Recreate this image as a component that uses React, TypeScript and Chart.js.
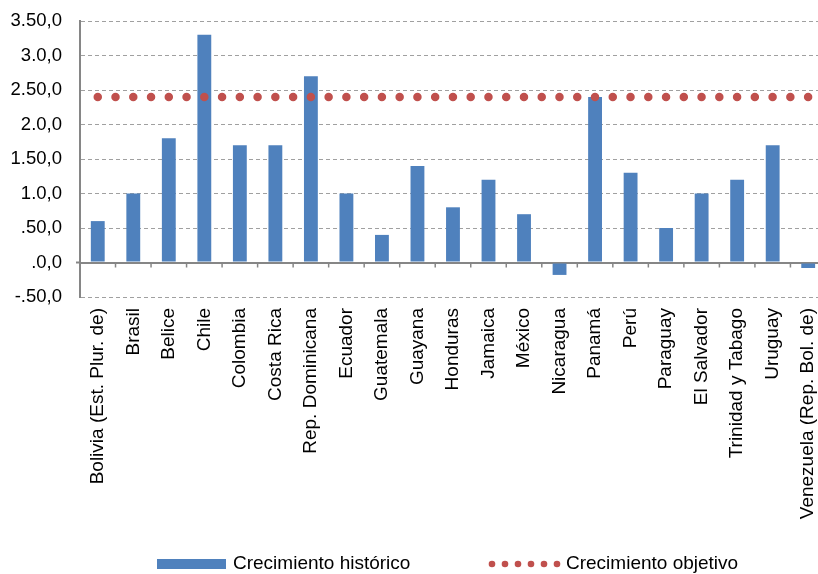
import React, { useEffect, useRef } from "react";
import { Chart, registerables } from "chart.js";

Chart.register(...registerables);

const categories = [
  "Bolivia (Est. Plur. de)",
  "Brasil",
  "Belice",
  "Chile",
  "Colombia",
  "Costa Rica",
  "Rep. Dominicana",
  "Ecuador",
  "Guatemala",
  "Guayana",
  "Honduras",
  "Jamaica",
  "México",
  "Nicaragua",
  "Panamá",
  "Perú",
  "Paraguay",
  "El Salvador",
  "Trinidad y Tabago",
  "Uruguay",
  "Venezuela (Rep. Bol. de)",
];

const historico = [
  0.6, 1.0, 1.8, 3.3, 1.7, 1.7, 2.7, 1.0, 0.4, 1.4, 0.8, 1.2, 0.7, -0.18, 2.4,
  1.3, 0.5, 1.0, 1.2, 1.7, -0.08,
];

const objetivo = [
  2.4, 2.4, 2.4, 2.4, 2.4, 2.4, 2.4, 2.4, 2.4, 2.4, 2.4, 2.4, 2.4, 2.4, 2.4,
  2.4, 2.4, 2.4, 2.4, 2.4, 2.4,
];

const yTickValues = [-0.5, 0, 0.5, 1.0, 1.5, 2.0, 2.5, 3.0, 3.5];
const yTickLabels = [
  "-.50,0",
  ".0,0",
  ".50,0",
  "1.0,0",
  "1.50,0",
  "2.0,0",
  "2.50,0",
  "3.0,0",
  "3.50,0",
];

const seriesNames = ["Crecimiento histórico", "Crecimiento objetivo"];

const BLUE = "#4F81BD";
const RED = "#C0504D";
const AXIS = "#868686";
const FONT = '"Liberation Sans", Arial, sans-serif';

const W = 842;
const H = 574;

export default function App() {
  const ref = useRef<HTMLCanvasElement | null>(null);

  useEffect(() => {
    if (!ref.current) return;

    const extras = {
      id: "extras",
      beforeDatasetsDraw(chart: any) {
        const { ctx } = chart;
        const x = chart.scales.x;
        const y = chart.scales.y;
        const y0 = y.getPixelForValue(0);
        ctx.save();
        ctx.strokeStyle = AXIS;
        ctx.lineWidth = 1.5;
        for (let i = 1; i < categories.length; i++) {
          const bx = (x.getPixelForValue(i - 1) + x.getPixelForValue(i)) / 2;
          ctx.beginPath();
          ctx.moveTo(bx, y0);
          ctx.lineTo(bx, y0 + 5);
          ctx.stroke();
        }
        // short stub of the zero line left of the value axis
        ctx.lineWidth = 2;
        ctx.beginPath();
        ctx.moveTo(chart.chartArea.left - 4, y0);
        ctx.lineTo(chart.chartArea.left, y0);
        ctx.stroke();
        ctx.restore();
      },
      afterDraw(chart: any) {
        const { ctx } = chart;
        const cy = 564;
        ctx.save();
        ctx.font = `19px ${FONT}`;
        ctx.textBaseline = "middle";
        ctx.textAlign = "left";
        ctx.fillStyle = BLUE;
        ctx.fillRect(157, cy - 5, 69, 10);
        ctx.fillStyle = "#000";
        ctx.fillText(seriesNames[0], 233, cy);
        ctx.fillStyle = RED;
        for (let i = 0; i < 6; i++) {
          ctx.beginPath();
          ctx.arc(492 + 13 * i, cy, 3.3, 0, Math.PI * 2);
          ctx.fill();
        }
        ctx.fillStyle = "#000";
        ctx.fillText(seriesNames[1], 566, cy);
        ctx.restore();
      },
    };

    const chart = new Chart(ref.current, {
      type: "bar",
      data: {
        labels: categories,
        datasets: [
          {
            type: "bar",
            label: seriesNames[0],
            data: historico,
            backgroundColor: BLUE,
            borderWidth: 0,
            barPercentage: 0.39,
            categoryPercentage: 1.0,
            order: 2,
          } as any,
          {
            type: "line",
            label: seriesNames[1],
            data: objetivo,
            borderColor: RED,
            backgroundColor: RED,
            borderWidth: 8.5,
            borderDash: (c: any) => {
              const xs = c.chart.scales.x;
              const s = (xs.getPixelForValue(1) - xs.getPixelForValue(0)) / 2;
              return [0, s - 0.002];
            },
            borderCapStyle: "round",
            pointRadius: 0,
            fill: false,
            tension: 0,
            order: 1,
          } as any,
        ],
      },
      options: {
        responsive: false,
        animation: false,
        devicePixelRatio: 1,
        layout: { padding: { top: 21, right: 0, bottom: 0, left: 0 } },
        plugins: {
          legend: { display: false },
          tooltip: { enabled: false },
        },
        scales: {
          x: {
            grid: { display: false, drawTicks: false },
            border: { display: false },
            ticks: {
              autoSkip: false,
              maxRotation: 90,
              minRotation: 90,
              padding: 11,
              color: "#000",
              font: { family: FONT, size: 19 },
            },
            afterFit(scale: any) {
              scale.height = H - 297;
            },
          },
          y: {
            min: -0.5,
            max: 3.5,
            ticks: {
              stepSize: 0.5,
              padding: 0,
              color: "#000",
              font: { family: FONT, size: 18.5 },
              callback: (v: any) => {
                const i = yTickValues.findIndex((t) => Math.abs(t - Number(v)) < 1e-6);
                return i >= 0 ? yTickLabels[i] : "";
              },
            },
            grid: {
              drawTicks: true,
              tickLength: 18,
              tickColor: "rgba(0,0,0,0)",
              color: (c: any) => (c.tick && Math.abs(c.tick.value) < 1e-9 ? AXIS : "#A0A0A0"),
              lineWidth: (c: any) => (c.tick && Math.abs(c.tick.value) < 1e-9 ? 2 : 1),
            },
            border: {
              display: true,
              color: AXIS,
              width: 2,
              dash: (c: any) => (c.tick && Math.abs(c.tick.value) < 1e-9 ? [] : [4, 3]),
            } as any,
            afterFit(scale: any) {
              scale.width = 80;
            },
          },
        },
      },
      plugins: [extras],
    });

    return () => chart.destroy();
  }, []);

  return (
    <div
      style={{
        position: "fixed",
        left: 0,
        top: 0,
        width: 818,
        height: 574,
        overflow: "hidden",
        background: "#fff",
      }}
    >
      <canvas ref={ref} width={W} height={H} style={{ display: "block", width: W, height: H }} />
    </div>
  );
}
